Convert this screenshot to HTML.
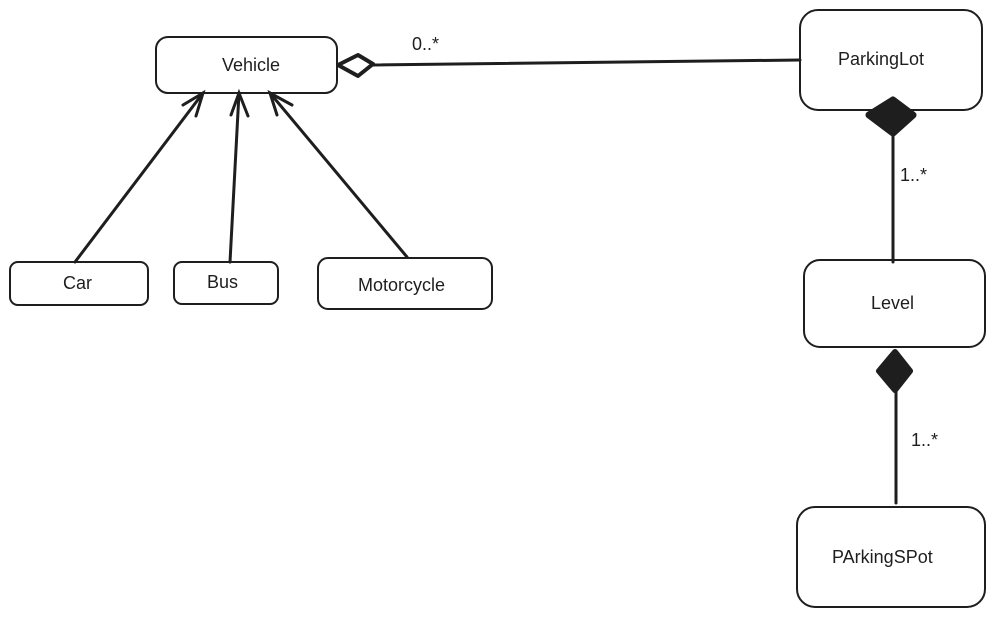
<!DOCTYPE html>
<html><head><meta charset="utf-8"><style>
html,body{margin:0;padding:0;background:#fff;}
svg{display:block;}
text{font-family:"Comic Sans MS","Liberation Sans",sans-serif;font-size:18px;fill:#1e1e1e;}
</style></head><body>
<svg width="996" height="617" viewBox="0 0 996 617" xmlns="http://www.w3.org/2000/svg">
<g fill="none" stroke="#1e1e1e" stroke-width="2">
<rect x="156" y="37" width="181" height="56" rx="12"/>
<rect x="10" y="262" width="138" height="43" rx="8"/>
<rect x="174" y="262" width="104" height="42" rx="8"/>
<rect x="318" y="258" width="174" height="51" rx="10"/>
<rect x="800" y="10" width="182" height="100" rx="18"/>
<rect x="804" y="260" width="181" height="87" rx="16"/>
<rect x="797" y="507" width="188" height="100" rx="18"/>
</g>
<g stroke="#1e1e1e" stroke-width="3" fill="none" stroke-linecap="round">
<line x1="75" y1="262" x2="203" y2="93"/>
<line x1="230" y1="262" x2="239" y2="93"/>
<line x1="407" y1="257" x2="270" y2="93"/>
<polyline points="183,105 203,93 196,116"/>
<polyline points="231,115 239,93 248,116"/>
<polyline points="277,115 270,93 292,105"/>
<line x1="372" y1="65" x2="800" y2="60"/>
<line x1="893" y1="133" x2="893" y2="262"/>
<line x1="896" y1="392" x2="896" y2="503"/>
</g>
<polygon points="338,65 358,55 373,64 358,76" fill="#fff" stroke="#1e1e1e" stroke-width="4" stroke-linejoin="round"/>
<polygon points="893,100 913,115 893,133 869,115" fill="#1e1e1e" stroke="#1e1e1e" stroke-width="7" stroke-linejoin="round"/>
<polygon points="895,352 910,371 895,390 879,371" fill="#1e1e1e" stroke="#1e1e1e" stroke-width="6" stroke-linejoin="round"/>
<text x="222" y="71">Vehicle</text>
<text x="63" y="289">Car</text>
<text x="207" y="288">Bus</text>
<text x="358" y="291">Motorcycle</text>
<text x="838" y="65">ParkingLot</text>
<text x="871" y="309">Level</text>
<text x="832" y="563">PArkingSPot</text>
<text x="412" y="50">0..*</text>
<text x="900" y="181">1..*</text>
<text x="911" y="446">1..*</text>
</svg>
</body></html>
